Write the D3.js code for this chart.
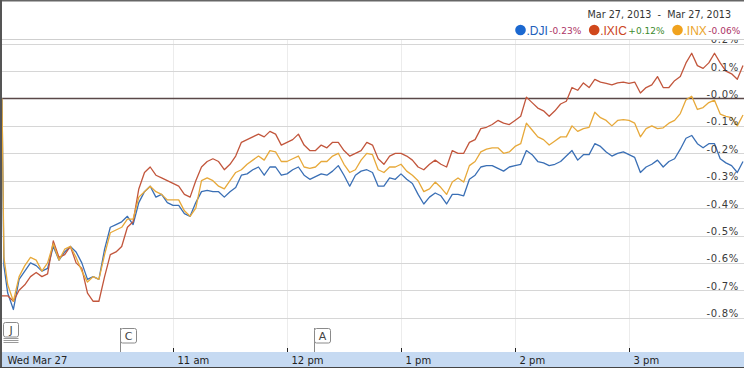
<!DOCTYPE html>
<html>
<head>
<meta charset="utf-8">
<script src="https://cdn.jsdelivr.net/npm/d3@7"></script>
<style>
  html, body { margin: 0; padding: 0; background: #fff; }
  svg { display: block; }
</style>
</head>
<body>
<svg width="744" height="368"></svg>
<script>
// minutes after the 9:30 open
var minutes = [0,1,3,6,9,12,15,18,21,24,27,30,33,36,39,42,45,48,51,54,57,60,63,66,69,72,75,78,81,84,
  87,90,93,96,99,102,105,108,111,114,117,120,123,126,129,132,135,138,141,144,147,150,153,156,159,162,165,168,171,174,
  177,180,183,186,189,192,195,198,201,204,207,210,213,216,219,222,225,228,231,234,237,240,243,246,249,252,255,258,261,264,
  267,270,273,276,279,282,285,288,291,294,297,300,303,306,309,312,315,318,321,324,327,330,333,336,339,342,345,348,351,354,
  357,360,363,366,369,372,375,378,381,384,387,390];

// % change vs previous close
var dji = [0,-0.61,-0.71,-0.77,-0.66,-0.63,-0.60,-0.61,-0.63,-0.62,
  -0.54,-0.59,-0.56,-0.54,-0.56,-0.60,-0.66,-0.65,-0.66,-0.55,
  -0.47,-0.46,-0.45,-0.43,-0.46,-0.38,-0.34,-0.32,-0.36,-0.35,
  -0.38,-0.39,-0.39,-0.42,-0.43,-0.38,-0.34,-0.335,-0.34,-0.34,
  -0.36,-0.34,-0.325,-0.28,-0.275,-0.26,-0.25,-0.28,-0.25,-0.25,
  -0.28,-0.275,-0.26,-0.25,-0.28,-0.295,-0.285,-0.275,-0.28,-0.265,
  -0.245,-0.28,-0.32,-0.28,-0.265,-0.26,-0.27,-0.32,-0.32,-0.29,
  -0.295,-0.275,-0.295,-0.31,-0.35,-0.385,-0.36,-0.345,-0.355,-0.385,
  -0.35,-0.35,-0.355,-0.295,-0.28,-0.25,-0.245,-0.245,-0.255,-0.265,
  -0.25,-0.245,-0.24,-0.19,-0.205,-0.23,-0.235,-0.245,-0.24,-0.23,
  -0.21,-0.19,-0.225,-0.205,-0.205,-0.165,-0.175,-0.195,-0.21,-0.20,
  -0.195,-0.205,-0.215,-0.27,-0.25,-0.24,-0.225,-0.25,-0.23,-0.22,
  -0.185,-0.145,-0.135,-0.165,-0.18,-0.165,-0.165,-0.22,-0.235,-0.245,
  -0.27,-0.23];

var ixic = [-0.72,-0.72,-0.72,-0.74,-0.70,-0.68,-0.65,-0.635,-0.65,-0.64,
  -0.52,-0.58,-0.57,-0.54,-0.60,-0.62,-0.71,-0.74,-0.74,-0.65,
  -0.57,-0.56,-0.54,-0.47,-0.45,-0.33,-0.27,-0.25,-0.28,-0.29,
  -0.30,-0.31,-0.32,-0.35,-0.36,-0.30,-0.25,-0.23,-0.22,-0.23,
  -0.26,-0.24,-0.21,-0.16,-0.15,-0.14,-0.13,-0.14,-0.12,-0.13,
  -0.17,-0.16,-0.15,-0.13,-0.17,-0.19,-0.19,-0.17,-0.18,-0.16,
  -0.16,-0.19,-0.21,-0.20,-0.19,-0.16,-0.17,-0.22,-0.24,-0.21,
  -0.20,-0.20,-0.21,-0.225,-0.25,-0.26,-0.24,-0.225,-0.24,-0.25,
  -0.19,-0.20,-0.20,-0.16,-0.15,-0.11,-0.105,-0.095,-0.08,-0.09,
  -0.095,-0.08,-0.065,0.005,-0.015,-0.035,-0.045,-0.065,-0.045,-0.02,
  -0.01,0.04,0.03,0.057,0.04,0.07,0.06,0.055,0.05,0.057,
  0.06,0.055,0.06,0.02,0.04,0.05,0.08,0.04,0.04,0.065,
  0.08,0.13,0.165,0.12,0.11,0.13,0.165,0.13,0.10,0.09,
  0.07,0.12];

var inx = [0,-0.58,-0.68,-0.74,-0.65,-0.61,-0.58,-0.59,-0.63,-0.60,
  -0.53,-0.59,-0.55,-0.54,-0.58,-0.63,-0.67,-0.65,-0.66,-0.57,
  -0.49,-0.48,-0.47,-0.44,-0.44,-0.36,-0.34,-0.32,-0.34,-0.35,
  -0.37,-0.37,-0.37,-0.41,-0.43,-0.40,-0.30,-0.29,-0.30,-0.32,
  -0.33,-0.30,-0.27,-0.26,-0.24,-0.225,-0.21,-0.225,-0.19,-0.195,
  -0.23,-0.23,-0.22,-0.21,-0.25,-0.255,-0.25,-0.23,-0.23,-0.21,
  -0.20,-0.24,-0.27,-0.26,-0.225,-0.20,-0.205,-0.26,-0.27,-0.25,
  -0.25,-0.24,-0.265,-0.28,-0.30,-0.34,-0.33,-0.305,-0.325,-0.35,
  -0.305,-0.29,-0.305,-0.245,-0.23,-0.195,-0.185,-0.18,-0.18,-0.20,
  -0.195,-0.175,-0.165,-0.09,-0.115,-0.14,-0.15,-0.17,-0.155,-0.14,
  -0.14,-0.10,-0.12,-0.11,-0.105,-0.05,-0.07,-0.08,-0.10,-0.08,
  -0.077,-0.08,-0.09,-0.14,-0.11,-0.10,-0.11,-0.107,-0.09,-0.08,
  -0.055,-0.005,0.008,-0.04,-0.033,-0.015,-0.006,-0.057,-0.065,-0.07,
  -0.10,-0.06];

var seriesNames = [".DJI", ".IXIC", ".INX"];
var seriesChanges = ["-0.23%", "+0.12%", "-0.06%"];
var yTicks = [-0.8,-0.7,-0.6,-0.5,-0.4,-0.3,-0.2,-0.1,0,0.1,0.2];
var yTickLabels = ["-0.8%","-0.7%","-0.6%","-0.5%","-0.4%","-0.3%","-0.2%","-0.1%","-0.0%","0.1%","0.2%"];
var hourTicks = [11,12,13,14,15];
var hourLabels = ["11 am","12 pm","1 pm","2 pm","3 pm"];
var flagLabels = ["J","C","A"];
var flagMinutes = [0.7, 62.2, 164.3];
var dateRange = "Mar 27, 2013  -  Mar 27, 2013";
var dayLabel = "Wed Mar 27";

var lineColors = ["#3a6fb5", "#c2563c", "#e7a93a"];
var dotColors = ["#1b68d0", "#d0481c", "#f0a21e"];
var nameColors = ["#2160bb", "#cc4422", "#eba42a"];

var svg = d3.select("svg");
var W = 744, H = 368;
var plotTop = 40, plotBottom = 352;

function at(m) { return new Date(2013, 2, 27, 9, 30 + Math.floor(m), Math.round((m % 1) * 60)); }

var x = d3.scaleTime()
    .domain([at(0), at(390)])
    .range([2, 743]);

var y = d3.scaleLinear()
    .domain([-0.8, 0.2])
    .range([317.7, 43.7]);

svg.append("rect").attr("width", W).attr("height", H).attr("fill", "#fff");

// vertical hour grid
svg.append("g")
  .selectAll("line")
  .data(hourTicks)
  .enter().append("line")
    .attr("x1", function(h) { return Math.round(x(new Date(2013, 2, 27, h))) + 0.5; })
    .attr("x2", function(h) { return Math.round(x(new Date(2013, 2, 27, h))) + 0.5; })
    .attr("y1", plotTop)
    .attr("y2", plotBottom)
    .attr("stroke", "#ececec");

// horizontal grid
svg.append("g")
  .selectAll("line")
  .data(yTicks.filter(function(d) { return d !== 0; }))
  .enter().append("line")
    .attr("x1", 2)
    .attr("x2", W)
    .attr("y1", function(d) { return Math.round(y(d)) + 0.5; })
    .attr("y2", function(d) { return Math.round(y(d)) + 0.5; })
    .attr("stroke", "#d6d6d6");

svg.append("line")
    .attr("x1", 2).attr("x2", W)
    .attr("y1", y(0)).attr("y2", y(0))
    .attr("stroke", "#5a4848")
    .attr("stroke-width", 1.4);

svg.append("defs").append("clipPath").attr("id", "plot")
  .append("rect").attr("x", 2).attr("y", plotTop).attr("width", W - 2).attr("height", plotBottom - plotTop);

var line = d3.line()
    .x(function(d) { return x(at(d[0])); })
    .y(function(d) { return y(d[1]); });

var series = [dji, ixic, inx];
svg.append("g")
    .attr("clip-path", "url(#plot)")
  .selectAll("path")
  .data(series)
  .enter().append("path")
    .attr("fill", "none")
    .attr("stroke", function(d, i) { return lineColors[i]; })
    .attr("stroke-width", 1.3)
    .attr("stroke-linejoin", "round")
    .attr("d", function(vals) { return line(vals.map(function(v, i) { return [minutes[i], v]; })); });

// right-side value labels
var yAxis = svg.append("g")
    .attr("transform", "translate(739,0)")
    .call(d3.axisLeft(y)
      .tickValues(yTicks)
      .tickFormat(function(d, i) { return yTickLabels[i]; })
      .tickSize(0)
      .tickPadding(0));
yAxis.select(".domain").remove();
yAxis.selectAll("text")
    .attr("dy", null)
    .attr("y", -1)
    .attr("fill", "#3a3a3a")
    .attr("letter-spacing", "0.7px")
    .style("font-family", "DejaVu Sans")
    .style("font-size", "10px");

// header panel
svg.append("rect").attr("x", 2).attr("y", 2).attr("width", W).attr("height", plotTop - 2.5).attr("fill", "#fff");
svg.append("line").attr("x1", 2).attr("x2", W).attr("y1", plotTop - 0.5).attr("y2", plotTop - 0.5).attr("stroke", "#cfcfcf");

svg.append("text")
    .attr("x", 731).attr("y", 17.5)
    .attr("text-anchor", "end")
    .attr("fill", "#333")
    .style("font-family", "DejaVu Sans")
    .style("font-size", "9.6px")
    .style("white-space", "pre")
    .text(dateRange);

var cursor = 515.5;
seriesNames.forEach(function(name, i) {
  svg.append("circle").attr("cx", cursor + 5).attr("cy", 30).attr("r", 5.3).attr("fill", dotColors[i]);
  var t = svg.append("text")
      .attr("x", cursor + 11).attr("y", 34.5)
      .attr("fill", nameColors[i])
      .style("font-family", "Liberation Sans")
      .style("font-size", "12px")
      .text(name);
  var nx = cursor + 11 + t.node().getComputedTextLength() + 1.5;
  var c = svg.append("text")
      .attr("x", nx).attr("y", 34)
      .attr("fill", seriesChanges[i].charAt(0) === "+" ? "#3d8a2e" : "#ad3366")
      .style("font-family", "DejaVu Sans")
      .style("font-size", "9px")
      .text(seriesChanges[i]);
  cursor = nx + c.node().getComputedTextLength() + 8;
});

// event flags
flagLabels.forEach(function(label, i) {
  var fx = Math.round(x(at(flagMinutes[i]))) + 0.5;
  var stacked = i === 0;
  var fy = stacked ? 322 : 328;
  var g = svg.append("g");
  if (!stacked) {
    g.append("line").attr("x1", fx).attr("x2", fx).attr("y1", fy).attr("y2", plotBottom).attr("stroke", "#8a8a8a");
  } else {
    [338.5, 340.5, 342.5].forEach(function(ly) {
      g.append("line").attr("x1", fx).attr("x2", fx + 15).attr("y1", ly).attr("y2", ly).attr("stroke", "#9a9a9a");
    });
  }
  g.append("rect")
      .attr("x", fx).attr("y", fy + 0.5)
      .attr("width", stacked ? 15 : 16).attr("height", 14.5)
      .attr("rx", 2)
      .attr("fill", "#fff").attr("stroke", "#8a8a8a");
  g.append("text")
      .attr("x", fx + (stacked ? 7.5 : 8)).attr("y", fy + 12)
      .attr("text-anchor", "middle")
      .attr("fill", "#444")
      .style("font-family", "DejaVu Sans")
      .style("font-size", "11px")
      .text(label);
});

// time band
svg.append("rect").attr("x", 2).attr("y", plotBottom).attr("width", W - 2).attr("height", 15).attr("fill", "#c6daf2");

var xAxis = svg.append("g")
    .attr("transform", "translate(0," + plotBottom + ")")
    .call(d3.axisBottom(x)
      .tickValues(hourTicks.map(function(h) { return new Date(2013, 2, 27, h); }))
      .tickFormat(function(d, i) { return hourLabels[i]; })
      .tickSize(0));
xAxis.select(".domain").remove();
xAxis.selectAll(".tick line").attr("y1", -4).attr("y2", 0).attr("stroke", "#222");
xAxis.selectAll("text")
    .attr("dy", null).attr("y", 12).attr("x", 4)
    .attr("text-anchor", "start")
    .attr("fill", "#222")
    .style("font-family", "DejaVu Sans")
    .style("font-size", "10px");

svg.append("text")
    .attr("x", 7.5).attr("y", plotBottom + 12)
    .attr("fill", "#222")
    .style("font-family", "DejaVu Sans")
    .style("font-size", "10px")
    .text(dayLabel);

// frame
svg.append("line").attr("x1", 0).attr("x2", W).attr("y1", 0.75).attr("y2", 0.75).attr("stroke", "#666").attr("stroke-width", 1.5);
svg.append("line").attr("x1", 1).attr("x2", 1).attr("y1", 0).attr("y2", H).attr("stroke", "#555").attr("stroke-width", 2);
svg.append("line").attr("x1", 0).attr("x2", W).attr("y1", 367.5).attr("y2", 367.5).attr("stroke", "#444");
</script>
</body>
</html>
